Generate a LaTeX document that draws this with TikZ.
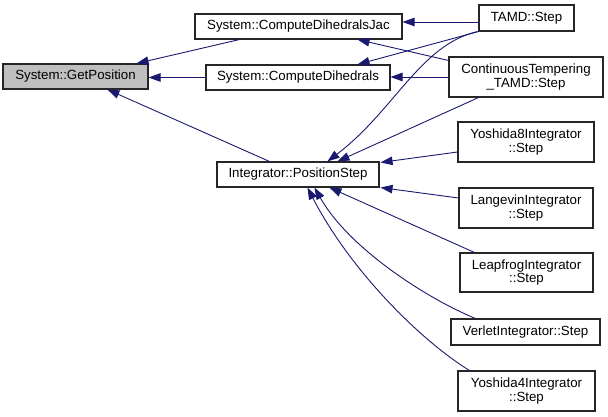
\documentclass[tikz,border=0pt]{standalone}
\usepackage{fontspec}
\setmainfont{Liberation Sans}
\usetikzlibrary{arrows.meta,calc}
\definecolor{edgecol}{HTML}{191970}
\definecolor{gpfill}{HTML}{BFBFBF}
\tikzset{
  fbox/.style={draw=black!85, line width=1.1pt, fill=white, inner sep=0pt, align=center,
    font=\fontsize{13.3}{13.8}\selectfont},
  edge/.style={draw=edgecol, line width=0.9pt, -{Triangle[length=12pt,width=8.5pt]}},
}
\begin{document}
\begin{tikzpicture}[x=1pt,y=-1pt]
\useasboundingbox (0,0) rectangle (608,417);
% nodes
\node[fbox, fill=gpfill, minimum width=145pt, minimum height=25pt] (gp) at (75.5,76.5) {System::GetPosition};
\node[fbox, minimum width=207pt, minimum height=25pt] (jac) at (298.5,26.5) {System::ComputeDihedralsJac};
\node[fbox, minimum width=184pt, minimum height=25pt] (cd) at (298,77.5) {System::ComputeDihedrals};
\node[fbox, minimum width=95pt, minimum height=26pt] (tamd) at (526.5,18) {TAMD::Step};
\node[fbox, minimum width=154pt, minimum height=40pt] (ct) at (526,77) {ContinuousTempering\\\_TAMD::Step};
\node[fbox, minimum width=162pt, minimum height=25pt] (ps) at (298,174.5) {Integrator::PositionStep};
\node[fbox, minimum width=136pt, minimum height=40pt] (y8) at (526,142) {Yoshida8Integrator\\::Step};
\node[fbox, minimum width=134pt, minimum height=40pt] (lan) at (526,208) {LangevinIntegrator\\::Step};
\node[fbox, minimum width=133pt, minimum height=39pt] (leap) at (526.5,272.5) {LeapfrogIntegrator\\::Step};
\node[fbox, minimum width=149pt, minimum height=26pt] (ver) at (525.5,332) {VerletIntegrator::Step};
\node[fbox, minimum width=137pt, minimum height=40pt] (y4) at (526.5,391) {Yoshida4Integrator\\::Step};
% edges
\draw[edge] ($(jac.south west)+(45,0)$) -- ($(gp.north east)+(-12,0)$);
\draw[edge] (cd.west) -- (gp.east |- cd.west);
\draw[edge] ($(ps.north west)+(53,0)$) -- ($(gp.south west)+(105,0)$);
\draw[edge] ($(tamd.west)+(0,4)$) -- ($(jac.east |- tamd.west)+(0,4)$);
\draw[edge] (tamd.south west) -- ($(cd.north east)+(-33,0)$);
\draw[edge] ($(ct.north west)+(0,4)$) -- ($(jac.south east)+(-45,0)$);
\draw[edge] (ct.west) -- (cd.east |- ct.west);
\draw[edge] ($(tamd.south west)+(-1,0)$) .. controls (420,45) and (395,110) .. ($(ps.north west)+(111,0)$);
\draw[edge] ($(ct.south west)+(30,0)$) -- ($(ps.north west)+(121,0)$);
\draw[edge] ($(y8.west)+(0,10)$) -- ($(ps.north east)+(1,1)$);
\draw[edge] ($(lan.west)+(0,-10)$) -- ($(ps.south east)+(1,0)$);
\draw[edge] ($(leap.north west)+(15,0)$) -- ($(ps.south west)+(113,0)$);
\draw[edge] ($(ver.north west)+(25,0)$) .. controls (430,300) and (350,250) .. ($(ps.south west)+(98,0)$);
\draw[edge] ($(y4.north west)+(12,0)$) .. controls (420,340) and (350,270) .. ($(ps.south west)+(91,0)$);
\end{tikzpicture}
\end{document}
